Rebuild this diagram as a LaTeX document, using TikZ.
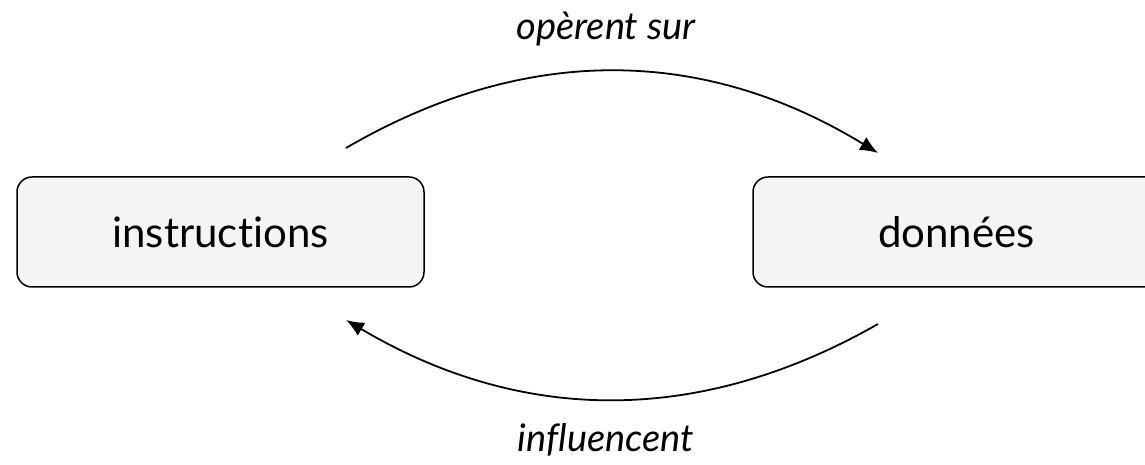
\documentclass[tikz,border=0pt]{standalone}
\usepackage{fontspec}
\setmainfont{Lato}[Ligatures={NoCommon,NoDiscretionary}]
\usetikzlibrary{arrows.meta}
\begin{document}
\begin{tikzpicture}[x=1pt,y=1pt,
  box/.style={draw=black,line width=1.5pt,fill=boxfill,rounded corners=15pt,minimum width=407pt,minimum height=110pt,inner sep=0pt,font=\fontsize{42}{46}\selectfont},
  conn/.style={line width=1.8pt,-{Latex[length=18pt,width=15pt]}},
  lab/.style={font=\fontsize{38}{42}\selectfont\itshape}]
\definecolor{boxfill}{HTML}{F4F4F4}
\useasboundingbox (0,0) rectangle (1145,465);
\node[box] (instr) at (220.5,233) {instructions};
\node[box] (donn) at (956.5,233) {données};
\coordinate (a1) at (346,317);
\coordinate (a2) at (878,312);
\coordinate (b1) at (878,141);
\coordinate (b2) at (346,145);
\draw[conn] (a1) .. controls (523,420) and (701,420) .. (a2);
\draw[conn] (b1) .. controls (701,40) and (523,40) .. (b2);
\node[lab] (l1) at (606,436) {opèrent sur};
\node[lab] (l2) at (606,25) {influencent};
\end{tikzpicture}
\end{document}
